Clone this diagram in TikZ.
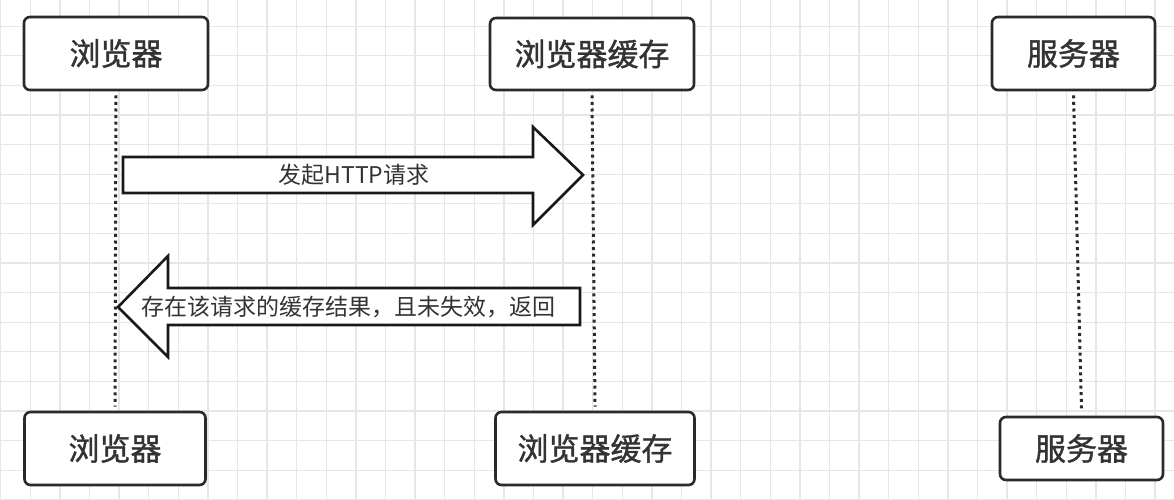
\documentclass[tikz,border=0pt]{standalone}
\usepackage{fontspec}
\newfontfamily\cjk{Noto Sans CJK SC}
\newfontfamily\cjkheavy[FakeBold=1.2]{Noto Sans CJK SC}
\definecolor{gridc}{HTML}{E6E6E6}
\definecolor{boxc}{HTML}{2A2A2A}
\definecolor{textc}{HTML}{333333}
\tikzset{
  box/.style={draw=boxc, line width=2.6pt, rounded corners=6pt, fill=white,
    inner sep=0pt, text=textc, font=\cjkheavy\fontsize{31}{36}\selectfont},
  lifeline/.style={draw=boxc, line width=3pt, line cap=butt, dash pattern=on 3pt off 3.6pt},
  blockarrow/.style={draw=black!90, line width=2.6pt, fill=white, line join=miter},
  msglabel/.style={text=textc, inner sep=0pt, font=\cjk\fontsize{23}{27}\selectfont},
  gridline/.style={draw=gridc, line width=1.3pt}
}
\begin{document}
\begin{tikzpicture}[x=1pt,y=-1pt]
\useasboundingbox (0,0) rectangle (1174,500);
\fill[white] (0,0) rectangle (1174,500);
% grid
\foreach \i in {0,...,40} {\draw[gridline] (0.7+29.6*\i,0) -- (0.7+29.6*\i,500);}
\foreach \j in {0,...,17} {\draw[gridline] (0,-3.4+29.6*\j) -- (1174,-3.4+29.6*\j);}
% lifeline boxes
\node[box, minimum width=184pt, minimum height=73pt] (b1) at (116,53.5) {浏览器};
\node[box, minimum width=204pt, minimum height=72pt] (c1) at (592,54) {浏览器缓存};
\node[box, minimum width=163pt, minimum height=73pt] (s1) at (1073.5,53.5) {服务器};
\node[box, minimum width=181pt, minimum height=73pt] (b2) at (115,448.5) {浏览器};
\node[box, minimum width=199pt, minimum height=73pt] (c2) at (595,448.5) {浏览器缓存};
\node[box, minimum width=163pt, minimum height=63pt] (s2) at (1081.5,448.5) {服务器};
% lifelines
\draw[lifeline] ([yshift=-4pt]b1.south) -- ([yshift=4pt]b2.north);
\draw[lifeline] ([yshift=-4pt]c1.south) -- ([yshift=4pt]c2.north);
\draw[lifeline] ([yshift=-4pt]s1.south) -- ([yshift=6pt]s2.north);
% message 1: request
\coordinate (m1a) at (123,175);
\coordinate (m1b) at (583,175);
\draw[blockarrow] (123,157) -- (533,157) -- (533,127) -- (m1b) -- (533,225) -- (533,193) -- (123,193) -- cycle;
\node[msglabel] (t1) at (354,175) {发起HTTP请求};
% message 2: response
\coordinate (m2a) at (580,307);
\coordinate (m2b) at (118,307);
\draw[blockarrow] (580,288) -- (168,288) -- (168,256) -- (m2b) -- (168,357) -- (168,325) -- (580,325) -- cycle;
\node[msglabel] (t2) at (348,307) {存在该请求的缓存结果，且未失效，返回};
\end{tikzpicture}
\end{document}
